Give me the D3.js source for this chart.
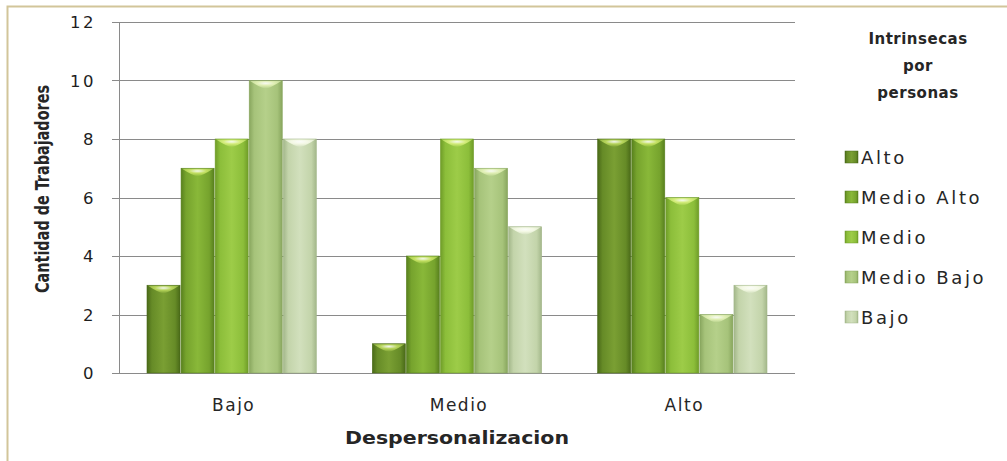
<!DOCTYPE html>
<html><head><meta charset="utf-8">
<script src="https://cdn.jsdelivr.net/npm/d3@7"></script>
<style>
html,body{margin:0;padding:0;background:#fff;}
svg{display:block;}
</style></head>
<body>
<svg id="chart" width="1007" height="461"></svg>
<script>
const categories = ["Bajo", "Medio", "Alto"];
const seriesNames = ["Alto", "Medio Alto", "Medio", "Medio Bajo", "Bajo"];
const valuesAlto = [3, 1, 8];
const valuesMedioAlto = [7, 4, 8];
const valuesMedio = [8, 8, 6];
const valuesMedioBajo = [10, 7, 2];
const valuesBajo = [8, 5, 3];
const yTicks = [0, 2, 4, 6, 8, 10, 12];
const legendTitle = ["Intrinsecas", "por", "personas"];
const xTitle = "Despersonalizacion";
const yTitle = "Cantidad de Trabajadores";

const seriesValues = [valuesAlto, valuesMedioAlto, valuesMedio, valuesMedioBajo, valuesBajo];
const palette = [
  {base:"#668b27", dark:"#4a6a18", light:"#7a9f33", cap:"#b6d45a"},
  {base:"#76a32d", dark:"#58801e", light:"#89b839", cap:"#c4e063"},
  {base:"#8cbe3a", dark:"#6f9c28", light:"#9dcc48", cap:"#d3ec7a"},
  {base:"#a6c37a", dark:"#88a65e", light:"#b5d08a", cap:"#e0efb4"},
  {base:"#c3d4aa", dark:"#a3b78a", light:"#d2e0bd", cap:"#f3f8e4"}
];

const svg = d3.select("#chart");
const pLeft = 119, pRight = 795, pTop = 22, pBottom = 373;
const font = "DejaVu Sans, Verdana, sans-serif";
const txt = "#262626";

svg.append("path").attr("d", "M7.5,461 L7.5,6.5 L1007,6.5")
  .attr("fill","none").attr("stroke","#d2c59a").attr("stroke-width",2);

const y = d3.scaleLinear().domain([0, 12]).range([pBottom, pTop]);
const x0 = d3.scaleBand().domain(categories).range([pLeft, pRight]);
const gap = 28;
const x1 = d3.scaleBand().domain(seriesNames).range([gap, x0.bandwidth() - gap]).paddingInner(0.03);

const defs = svg.append("defs");
palette.forEach((p, i) => {
  const g = defs.append("linearGradient").attr("id", "g" + i).attr("x1","0").attr("x2","1").attr("y1","0").attr("y2","0");
  g.append("stop").attr("offset","0").attr("stop-color", p.dark);
  g.append("stop").attr("offset","0.15").attr("stop-color", p.base);
  g.append("stop").attr("offset","0.5").attr("stop-color", p.light);
  g.append("stop").attr("offset","0.85").attr("stop-color", p.base);
  g.append("stop").attr("offset","1").attr("stop-color", p.dark);
  const c = defs.append("radialGradient").attr("id", "c" + i).attr("cx","0.5").attr("cy","0.3").attr("r","0.7");
  c.append("stop").attr("offset","0").attr("stop-color", "#ffffff").attr("stop-opacity", 0.9);
  c.append("stop").attr("offset","0.4").attr("stop-color", p.cap);
  c.append("stop").attr("offset","1").attr("stop-color", p.light);
});

svg.append("g").selectAll("line").data(yTicks).join("line")
  .attr("x1", pLeft - 7).attr("x2", pRight)
  .attr("y1", d => Math.round(y(d)) + 0.5).attr("y2", d => Math.round(y(d)) + 0.5)
  .attr("stroke", "#8a8a8a").attr("stroke-width", 1);
svg.append("line").attr("x1", pLeft + 0.5).attr("x2", pLeft + 0.5).attr("y1", pTop).attr("y2", pBottom + 0.5)
  .attr("stroke", "#8a8a8a");

svg.append("g").selectAll("text").data(yTicks).join("text")
  .attr("x", 96).attr("y", d => y(d) + 6)
  .attr("text-anchor", "end").attr("letter-spacing", 2.5)
  .attr("font-family", font).attr("font-size", 16.5).attr("fill", "#1e1e1e")
  .text(d => d);

const groups = svg.append("g").selectAll("g").data(categories).join("g")
  .attr("transform", d => `translate(${x0(d)},0)`);

groups.each(function(cat, ci) {
  const g = d3.select(this);
  seriesNames.forEach((s, si) => {
    const v = seriesValues[si][ci];
    const bx = x1(s), bw = x1.bandwidth();
    const by = y(v);
    g.append("rect").attr("x", bx).attr("y", by).attr("width", bw).attr("height", pBottom - by)
      .attr("fill", `url(#g${si})`).attr("stroke", palette[si].dark).attr("stroke-width", 0.6);
    const capH = 8;
    g.append("path")
      .attr("d", `M${bx + 1},${by + 0.5} L${bx + bw - 1},${by + 0.5} Q${bx + bw * 0.62},${by + capH} ${bx + bw/2},${by + capH} Q${bx + bw * 0.38},${by + capH} ${bx + 1},${by + 0.5} Z`)
      .attr("fill", `url(#c${si})`);
  });
});

svg.append("g").selectAll("text").data(categories).join("text")
  .attr("x", d => x0(d) + x0.bandwidth() / 2 + 2).attr("y", 411)
  .attr("text-anchor", "middle").attr("letter-spacing", 1.5)
  .attr("font-family", font).attr("font-size", 17).attr("fill", txt)
  .text(d => d);

svg.append("text").attr("x", 457).attr("y", 444).attr("text-anchor", "middle")
  .attr("font-family", font).attr("font-size", 17).attr("font-weight", "bold").attr("fill", txt)
  .attr("textLength", 224).attr("lengthAdjust", "spacingAndGlyphs")
  .text(xTitle);

svg.append("text").attr("transform", "translate(49,189) rotate(-90)").attr("text-anchor", "middle")
  .attr("font-family", "DejaVu Sans Condensed, DejaVu Sans, sans-serif").attr("font-stretch", "condensed")
  .attr("font-size", 19).attr("font-weight", "bold").attr("fill", txt)
  .attr("textLength", 208).attr("lengthAdjust", "spacingAndGlyphs")
  .text(yTitle);

svg.append("g").selectAll("text").data(legendTitle).join("text")
  .attr("x", 918).attr("y", (d, i) => 44 + i * 27).attr("text-anchor", "middle")
  .attr("letter-spacing", 0.5)
  .attr("font-family", font).attr("font-size", 15).attr("font-weight", "bold").attr("fill", txt)
  .text(d => d);

const leg = svg.append("g").selectAll("g").data(seriesNames).join("g")
  .attr("transform", (d, i) => `translate(845,${157 + i * 40})`);
leg.append("rect").attr("x", 0).attr("y", -6).attr("width", 13).attr("height", 12)
  .attr("fill", (d, i) => `url(#g${i})`).attr("stroke", (d, i) => palette[i].dark).attr("stroke-width", 0.5);
leg.append("text").attr("x", 16).attr("y", 6.5).attr("letter-spacing", 2.6)
  .attr("font-family", font).attr("font-size", 18).attr("fill", txt)
  .text(d => d);
</script>
</body></html>
